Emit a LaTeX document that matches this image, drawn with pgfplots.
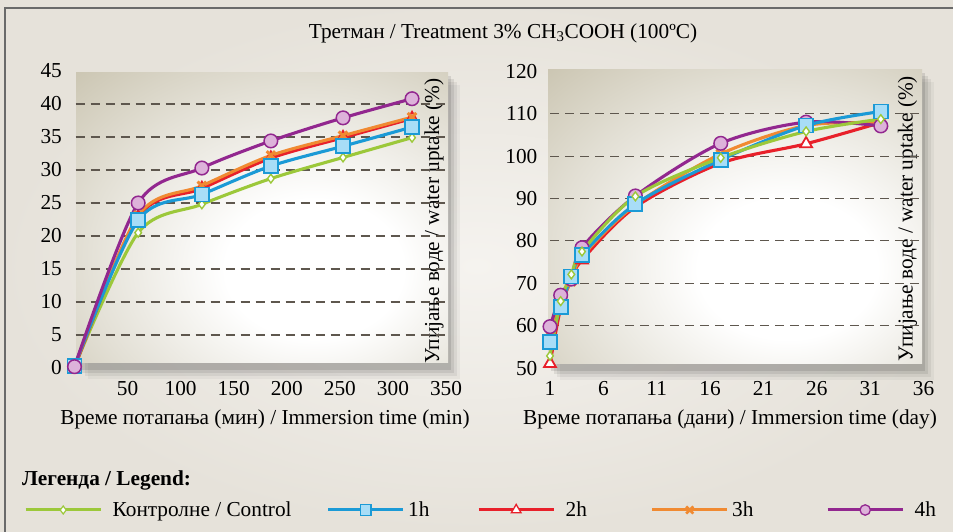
\documentclass[border=0pt]{standalone}
\usepackage{pgfplots}
\pgfplotsset{compat=1.18}
\usepackage{fontspec}
\setmainfont{Liberation Serif}
\definecolor{cgreen}{HTML}{9CC83A}
\definecolor{cblue}{HTML}{1B9AD6}
\definecolor{cblueL}{HTML}{A8DDF7}
\definecolor{cred}{HTML}{E8202A}
\definecolor{corange}{HTML}{F08A32}
\definecolor{cpurple}{HTML}{92278F}
\definecolor{cpurpleL}{HTML}{DDB2DA}
\definecolor{bgin}{HTML}{F5F3EF}
\definecolor{bgout}{HTML}{E6E2DA}
\definecolor{boxedge}{HTML}{BFB8A0}
\definecolor{gridc}{HTML}{5E574E}
\definecolor{framec}{HTML}{6A6A6A}
\pgfdeclareradialshading{boxshade}{\pgfpoint{8bp}{-10bp}}{color(0bp)=(white); color(12bp)=(white); color(30bp)=(white!55!boxedge); color(50bp)=(boxedge); color(100bp)=(boxedge)}
\newcommand{\fs}{\fontsize{21.3}{21.3}\selectfont}

\pgfplotsset{
  common/.style={
    scale only axis, height=297pt, clip=false,
    axis line style={draw=none}, major tick length=0pt,
    /pgf/number format/assume math mode=true,
    tick label style={font=\fs, inner sep=0pt},
    yticklabel style={anchor=east, xshift=-12.5pt},
    xticklabel style={anchor=north, yshift=-13pt},
    every axis plot/.append style={line width=3.1pt, smooth, tension=0.5},
  },
  sC/.style={cgreen, mark=diamond*, mark size=4.4pt, mark options={fill=white, draw=cgreen, line width=1.4pt}},
  s1/.style={cblue, mark=square*, mark size=7pt, mark options={fill=cblueL, draw=cblue, line width=1.8pt}},
  s2/.style={cred, mark=triangle*, mark size=6.8pt, mark options={fill=white, draw=cred, line width=1.8pt}},
  s3/.style={corange, mark=x, mark size=6pt, mark options={draw=corange, line width=3pt}},
  s4/.style={cpurple, mark=*, mark size=6.8pt, mark options={fill=cpurpleL, draw=cpurple, line width=1.5pt}},
}

\begin{document}
\begin{tikzpicture}
\useasboundingbox (0pt,0pt) rectangle (953pt,532pt);
\begin{scope}[x=1pt,y=1pt]
\clip (0,0) rectangle (953,532);
\shade[inner color=bgin, outer color=bgout] (0,0) rectangle (953,532);
\draw[framec, line width=1.5pt] (5,-10) rectangle (970,524);
% box shadows
\foreach \o/\a in {12/0.04,9/0.06,6/0.08,3/0.1}{
  \fill[black, opacity=\a] (76+\o,169-\o-4) rectangle (448+\o,459-\o);
  \fill[black, opacity=\a] (548+\o,168-\o-4) rectangle (922+\o,462-\o);
}
\shade[shading=boxshade] (76,169) rectangle (448,459);
\shade[shading=boxshade] (548,168) rectangle (922,462);
\node[font=\fs] at (503,499) {Третман / Treatment 3\% CH\textsubscript{3}COOH (100ºC)};
\node[font=\fs] at (265,113) {Време потапања (мин) / Immersion time (min)};
\node[font=\fs] at (730,113) {Време потапања (дани) / Immersion time (day)};
\node[font=\fs, rotate=90] at (434,311) {Упијање воде / water uptake (\%)};
\node[font=\fs, rotate=90] at (907.5,313.5) {Упијање воде / water uptake (\%)};
\node[font=\bfseries\fs, anchor=west, inner sep=0pt] at (22,52) {Легенда / Legend:};
\end{scope}

% left axis
\begin{axis}[common, at={(74.5pt,164pt)}, anchor=south west, width=371.5pt,
  xmin=0, xmax=350, ymin=0, ymax=45,
  xtick={50,100,...,350}, ytick={0,5,...,45}]
\pgfplotsinvokeforeach{5,10,...,40}{\draw[gridc, line width=1.1pt, dash pattern=on 9pt off 6pt] (axis cs:1,#1) -- (axis cs:350,#1);}
\addplot[sC] coordinates {(0,0.2)(60,20.5)(120,24.8)(185,28.7)(253,31.9)(318,34.9)};
\addplot[s2] coordinates {(0,0)(60,22.9)(120,27.2)(185,31.8)(253,34.9)(318,37.8)};
\addplot[s3] coordinates {(0,0.2)(60,23.1)(120,27.6)(185,32.2)(253,35.2)(318,38.0)};
\addplot[s1] coordinates {(0,0.3)(60,22.4)(120,26.3)(185,30.6)(253,33.6)(318,36.5)};
\addplot[s4] coordinates {(0,0.2)(60,25.0)(120,30.3)(185,34.4)(253,37.9)(318,40.8)};
\end{axis}

% right axis
\begin{axis}[common, at={(550pt,163.8pt)}, anchor=south west, width=373.5pt,
  xmin=1, xmax=36, ymin=50, ymax=120,
  xtick={1,6,...,36}, ytick={50,60,...,120}]
\pgfplotsinvokeforeach{60,70,...,110}{\draw[gridc, line width=1.1pt, dash pattern=on 9pt off 6pt] (axis cs:1,#1) -- (axis cs:36,#1);}
\addplot[s2] coordinates {(1,51.1)(2,64.2)(3,70.8)(4,75.5)(9,88.0)(17,98.3)(25,102.9)(32,107.9)};
\addplot[s3] coordinates {(1,58.6)(2,66.0)(3,70.4)(4,76.3)(9,88.5)(17,100.5)(25,107.2)(32,107.8)};
\addplot[s4] coordinates {(1,59.8)(2,67.2)(3,71.0)(4,78.4)(9,90.6)(17,103.0)(25,108.0)(32,107.1)};
\addplot[s1] coordinates {(1,56.1)(2,64.5)(3,71.6)(4,76.7)(9,88.7)(17,99.1)(25,107.2)(32,110.5)};
\addplot[sC] coordinates {(1,52.9)(2,65.8)(3,72.1)(4,77.5)(9,90.5)(17,99.6)(25,105.8)(32,108.7)};
\end{axis}

% legend
\begin{axis}[hide axis, scale only axis, width=1pt, height=1pt, at={(24pt,21.5pt)}, anchor=south west,
  xmin=0, xmax=1, ymin=0, ymax=1,
  legend columns=5,
  legend style={at={(0,0.5)}, anchor=west, draw=none, fill=none, inner sep=0pt, column sep=0pt,
    nodes={inner sep=0pt, font=\fs}},
  legend image code/.code={
    \draw[mark repeat=2, mark phase=2, #1] plot coordinates {(0pt,0pt) (37.5pt,0pt) (75pt,0pt)};
    \path[draw=none, fill=none] (0pt,0pt) -- (87pt,0pt);
  }]
\addlegendimage{cgreen, line width=3pt, mark=diamond*, mark size=4pt, mark options={fill=white, line width=1.2pt}}
\addlegendentry{\makebox[214pt][l]{Контролне / Control}}
\addlegendimage{cblue, line width=3pt, mark=square*, mark size=5.2pt, mark options={fill=cblueL, line width=1.3pt}}
\addlegendentry{\makebox[62pt][l]{\hspace{-7pt}1h}}
\addlegendimage{cred, line width=3pt, mark=triangle*, mark size=5.6pt, mark options={fill=white, line width=1.3pt}}
\addlegendentry{\makebox[85pt][l]{2h}}
\addlegendimage{corange, line width=3pt, mark=x, mark size=5pt, mark options={line width=2.6pt}}
\addlegendentry{\makebox[87pt][l]{\hspace{-7pt}3h}}
\addlegendimage{cpurple, line width=3pt, mark=*, mark size=5.2pt, mark options={fill=cpurpleL, line width=1.3pt}}
\addlegendentry{4h}
\end{axis}
\end{tikzpicture}
\end{document}
